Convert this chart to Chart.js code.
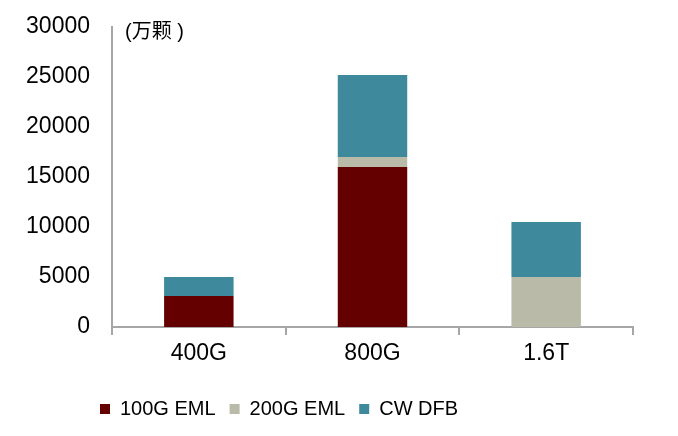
<!DOCTYPE html>
<html>
<head>
<meta charset="utf-8">
<script src="https://cdn.jsdelivr.net/npm/chart.js@4"></script>
<style>
  html, body { margin: 0; padding: 0; background: #fff; }
  #wrap { width: 678px; height: 436px; }
</style>
</head>
<body>
<div id="wrap"><canvas id="chart"></canvas></div>
<script>
// data (万颗)
const categories = ['400G', '800G', '1.6T'];
const eml100 = [3100, 16000, 0];
const eml200 = [0, 1000, 5000];
const cwDfb = [1900, 8200, 5500];
const seriesNames = ['100G EML', '200G EML', 'CW DFB'];
const unitLabel = '(万颗 )';

const axisGray = '#a6a6a6';
const fontFamily = "'Liberation Sans', Arial, 'Noto Sans CJK SC', sans-serif";

// draws the unit text and nudges the legend to where it sits in the original
const unitPlugin = {
    id: 'unitText',
    afterLayout(chart) {
        chart.legend.left = 86;
        chart.legend.top = 385;
    },
    afterDraw(chart) {
        const ctx = chart.ctx;
        ctx.save();
        ctx.fillStyle = '#000';
        ctx.font = "20px " + fontFamily;
        ctx.textBaseline = 'middle';
        ctx.fillText(unitLabel, 125, 32);
        ctx.restore();
    }
};

const ctx = document.getElementById('chart').getContext('2d');
new Chart(ctx, {
    type: 'bar',
    data: {
        labels: categories,
        datasets: [
            { label: seriesNames[0], data: eml100, backgroundColor: '#650000' },
            { label: seriesNames[1], data: eml200, backgroundColor: '#b9bba8' },
            { label: seriesNames[2], data: cwDfb, backgroundColor: '#3e899b' }
        ]
    },
    options: {
        responsive: true,
        maintainAspectRatio: false,
        animation: false,
        datasets: {
            bar: { barPercentage: 0.4, categoryPercentage: 1 }
        },
        layout: {
            padding: { left: 0, right: 45, top: 27, bottom: 17 }
        },
        plugins: {
            legend: {
                position: 'bottom',
                align: 'start',
                labels: {
                    boxWidth: 10,
                    boxHeight: 10,
                    padding: 14,
                    color: '#000',
                    font: { family: fontFamily, size: 20 }
                }
            },
            tooltip: { enabled: false }
        },
        scales: {
            x: {
                stacked: true,
                grid: {
                    display: true,
                    drawOnChartArea: false,
                    offset: true,
                    tickLength: 8,
                    color: axisGray,
                    lineWidth: 2
                },
                border: { color: axisGray, width: 2 },
                ticks: {
                    color: '#000',
                    padding: 5,
                    font: { family: fontFamily, size: 23 }
                },
                afterFit: scale => { scale.height = 48; }
            },
            y: {
                stacked: true,
                min: 0,
                max: 30000,
                grid: { display: false },
                border: { display: true, color: axisGray, width: 2 },
                ticks: {
                    stepSize: 5000,
                    color: '#000',
                    padding: 14,
                    font: { family: fontFamily, size: 23 },
                    callback: value => String(value)
                },
                afterFit: scale => {
                    scale.width = 112;
                    scale.paddingTop = 0;
                    scale.paddingBottom = 0;
                }
            }
        }
    },
    plugins: [unitPlugin]
});
</script>
</body>
</html>
